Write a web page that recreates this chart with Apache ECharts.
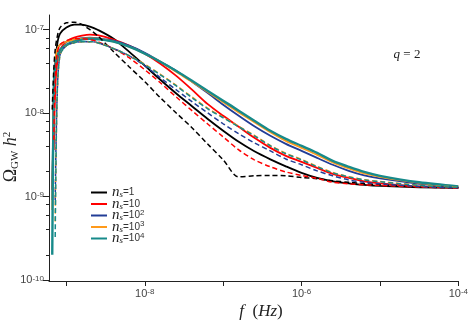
<!DOCTYPE html>
<html>
<head>
<meta charset="utf-8">
<script src="https://cdn.jsdelivr.net/npm/echarts@6/dist/echarts.min.js"></script>
<style>
  html, body { margin: 0; padding: 0; background: #fff; }
  #chart { width: 471px; height: 324px; }
</style>
</head>
<body>
<div id="chart"></div>
<script>
// frequency grid (Hz), shared by every curve
const freq = [6.6e-10, 6.9e-10, 7.2e-10, 7.6e-10, 8.3e-10, 1.0e-9, 1.26e-9, 1.58e-9, 2.0e-9, 2.5e-9,
  4.0e-9, 6.3e-9, 1.0e-8, 1.58e-8, 2.5e-8, 4.0e-8, 6.3e-8, 1.0e-7, 1.58e-7, 2.5e-7,
  4.0e-7, 6.3e-7, 1.0e-6, 1.58e-6, 2.5e-6, 4.0e-6, 6.3e-6, 1.0e-5, 3.16e-5, 1.0e-4];

// solid curves
const ns1 = [1.2e-9, 8.3e-9, 2.88e-8, 6.43e-8, 8.95e-8, 1.06e-7, 1.15e-7, 1.15e-7, 1.09e-7, 1.0e-7,
  7.8e-8, 5.45e-8, 3.70e-8, 2.51e-8, 1.73e-8, 1.21e-8, 8.55e-9, 6.14e-9, 4.52e-9, 3.48e-9,
  2.79e-9, 2.30e-9, 1.92e-9, 1.67e-9, 1.52e-9, 1.44e-9, 1.38e-9, 1.34e-9, 1.29e-9, 1.27e-9];
const ns10 = [null, 3.62e-9, 1.91e-8, 3.80e-8, 5.75e-8, 7.18e-8, 8.02e-8, 8.47e-8, 8.71e-8, 8.59e-8,
  7.59e-8, 6.43e-8, 5.15e-8, 3.91e-8, 2.81e-8, 1.91e-8, 1.29e-8, 9.29e-9, 6.85e-9, 5.05e-9,
  3.83e-9, 3.07e-9, 2.60e-9, 2.20e-9, 1.87e-9, 1.67e-9, 1.52e-9, 1.44e-9, 1.32e-9, 1.27e-9];
const ns100 = [9.1e-10, 1.91e-8, 4.13e-8, 5.75e-8, 6.61e-8, 7.18e-8, 7.59e-8, 7.91e-8, 8.02e-8, 7.91e-8,
  7.38e-8, 6.43e-8, 5.30e-8, 4.13e-8, 3.22e-8, 2.38e-8, 1.75e-8, 1.26e-8, 9.29e-9, 6.95e-9,
  5.34e-9, 4.28e-9, 3.52e-9, 2.90e-9, 2.40e-9, 2.03e-9, 1.79e-9, 1.65e-9, 1.42e-9, 1.30e-9];
const ns1000 = [6.9e-10, 1.91e-8, 4.13e-8, 5.75e-8, 6.61e-8, 7.18e-8, 7.59e-8, 7.80e-8, 7.91e-8, 7.80e-8,
  7.18e-8, 6.25e-8, 5.15e-8, 4.13e-8, 3.13e-8, 2.38e-8, 1.80e-8, 1.35e-8, 1.02e-8, 7.76e-9,
  5.89e-9, 4.65e-9, 3.83e-9, 3.16e-9, 2.56e-9, 2.17e-9, 1.89e-9, 1.72e-9, 1.46e-9, 1.32e-9];
const ns10000 = [2.0e-10, 1.91e-8, 3.80e-8, 4.61e-8, 5.75e-8, 6.61e-8, 7.18e-8, 7.59e-8, 7.80e-8, 7.69e-8,
  7.18e-8, 6.25e-8, 5.15e-8, 4.13e-8, 3.22e-8, 2.44e-8, 1.85e-8, 1.41e-8, 1.07e-8, 8.09e-9,
  6.14e-9, 4.91e-9, 4.05e-9, 3.34e-9, 2.67e-9, 2.27e-9, 1.97e-9, 1.77e-9, 1.48e-9, 1.32e-9];

// dashed curves
const ns1d = [1.1e-8, 3.31e-8, 5.75e-8, 8.02e-8, 1.06e-7, 1.21e-7, 1.23e-7, 1.15e-7, 1.0e-7, 8.47e-8,
  5.45e-8, 3.6e-8, 2.38e-8, 1.53e-8, 1.01e-8, 6.67e-9, 4.28e-9, 2.75e-9, 1.72e-9, 1.77e-9,
  1.79e-9, 1.77e-9, 1.69e-9, 1.63e-9, 1.54e-9, 1.48e-9, 1.42e-9, 1.38e-9, 1.30e-9, 1.27e-9];
const ns10d = [null, 4.78e-9, 2.51e-8, 5.01e-8, 6.61e-8, 7.38e-8, 7.80e-8, 7.80e-8, 7.59e-8, 7.18e-8,
  5.92e-8, 4.61e-8, 3.31e-8, 2.31e-8, 1.57e-8, 1.07e-8, 7.45e-9, 5.19e-9, 3.62e-9, 2.75e-9,
  2.27e-9, 1.97e-9, 1.79e-9, 1.65e-9, 1.48e-9, 1.42e-9, 1.38e-9, 1.36e-9, 1.30e-9, 1.27e-9];
const ns100d = [null, null, 9.1e-10, 1.45e-8, 5.01e-8, 6.43e-8, 6.98e-8, 7.18e-8, 7.18e-8, 6.98e-8,
  5.92e-8, 4.88e-8, 3.70e-8, 2.65e-8, 1.91e-8, 1.37e-8, 1.01e-8, 7.45e-9, 5.65e-9, 4.40e-9,
  3.52e-9, 2.82e-9, 2.40e-9, 2.03e-9, 1.77e-9, 1.58e-9, 1.48e-9, 1.42e-9, 1.32e-9, 1.27e-9];
const ns1000d = [null, null, 5.0e-10, 1.45e-8, 5.01e-8, 6.43e-8, 6.98e-8, 7.18e-8, 7.18e-8, 6.98e-8,
  5.92e-8, 4.9e-8, 3.85e-8, 2.92e-8, 2.16e-8, 1.56e-8, 1.15e-8, 8.9e-9, 6.95e-9, 5.4e-9,
  4.1e-9, 3.3e-9, 2.78e-9, 2.3e-9, 1.94e-9, 1.73e-9, 1.59e-9, 1.51e-9, 1.37e-9, 1.30e-9];
const ns10000d = [null, null, 3.27e-10, 1.45e-8, 5.01e-8, 6.43e-8, 6.98e-8, 7.18e-8, 7.18e-8, 6.98e-8,
  5.92e-8, 4.88e-8, 3.80e-8, 2.88e-8, 2.13e-8, 1.53e-8, 1.13e-8, 8.79e-9, 6.85e-9, 5.34e-9,
  4.05e-9, 3.25e-9, 2.75e-9, 2.27e-9, 1.92e-9, 1.72e-9, 1.58e-9, 1.50e-9, 1.36e-9, 1.29e-9];

const xMajor = [1e-9, 1e-8, 1e-7, 1e-6, 1e-5, 1e-4];
const xLabels = [1e-8, 1e-6, 1e-4];
const yMajor = [1e-10, 1e-9, 1e-8, 1e-7];
const yMinor = [2e-10, 4e-10, 6e-10, 8e-10, 2e-9, 4e-9, 6e-9, 8e-9, 2e-8, 4e-8, 6e-8, 8e-8];

const colors = ['#000000', '#ff0000', '#223d96', '#ff9a1a', '#178a8a'];
const names = ['ns1', 'ns10', 'ns100', 'ns1000', 'ns10000'];
const legendText = {
  ns1: '{n|n}{s|s}{e|=1}',
  ns10: '{n|n}{s|s}{e|=10}',
  ns100: '{n|n}{s|s}{e|=10}{p|2}',
  ns1000: '{n|n}{s|s}{e|=10}{p|3}',
  ns10000: '{n|n}{s|s}{e|=10}{p|4}'
};

function pairs(ys) {
  const out = [];
  ys.forEach((v, i) => { if (v != null) out.push([freq[i], v]); });
  return out;
}

function powLabel(v) {
  const e = Math.round(Math.log10(v));
  return '{b|10}{s|' + e + '}';
}

const labelRich = {
  b: { fontSize: 11, color: '#444', fontFamily: 'Liberation Sans', lineHeight: 11, verticalAlign: 'bottom' },
  s: { fontSize: 8, color: '#444', fontFamily: 'Liberation Sans', lineHeight: 8, verticalAlign: 'top' }
};

const solid = [ns1, ns10, ns100, ns1000, ns10000];
const dashed = [ns1d, ns10d, ns100d, ns1000d, ns10000d];
const series = [];
solid.forEach((ys, i) => {
  series.push({
    name: names[i], type: 'line', data: pairs(ys), showSymbol: false, smooth: 0.3,
    color: colors[i], lineStyle: { width: i === 4 ? 2.4 : 1.8, color: colors[i] }, z: 2 + i
  });
});
dashed.forEach((ys, i) => {
  series.push({
    name: names[i] + '_d', type: 'line', data: pairs(ys), showSymbol: false, smooth: 0.3,
    color: colors[i], lineStyle: { width: 1.5, color: colors[i], type: [5, 3] }, z: 8 + i
  });
});

const chart = echarts.init(document.getElementById('chart'));
chart.setOption({
  animation: false,
  grid: { left: 49, right: 12, top: 15, bottom: 43 },
  xAxis: {
    type: 'log', min: 6.0e-10, max: 1e-4,
    axisLine: { lineStyle: { color: '#222', width: 1 } },
    axisTick: { customValues: xMajor, length: 5, lineStyle: { color: '#222' } },
    axisLabel: { customValues: xLabels, formatter: powLabel, rich: labelRich, margin: 7 },
    splitLine: { show: false }
  },
  yAxis: [{
    type: 'log', min: 9.7e-11, max: 1.5e-7,
    axisLine: { show: true, lineStyle: { color: '#222', width: 1 } },
    axisTick: { show: true, customValues: yMajor, length: 6, lineStyle: { color: '#222' } },
    axisLabel: { customValues: yMajor, formatter: powLabel, rich: labelRich, margin: 5 },
    splitLine: { show: false }
  }, {
    type: 'log', min: 9.7e-11, max: 1.5e-7, position: 'left',
    axisLine: { show: false },
    axisTick: { show: true, customValues: yMinor, length: 3, lineStyle: { color: '#222' } },
    axisLabel: { show: false },
    splitLine: { show: false }
  }],
  legend: {
    data: names,
    orient: 'vertical', left: 86, top: 180,
    icon: 'rect', itemWidth: 16, itemHeight: 2, itemGap: -3.5,
    formatter: name => legendText[name],
    textStyle: {
      lineHeight: 14,
      rich: {
        n: { fontFamily: 'Liberation Serif', fontStyle: 'italic', fontSize: 15, color: '#222', lineHeight: 14 },
        s: { fontFamily: 'Liberation Serif', fontStyle: 'italic', fontSize: 9, color: '#222', lineHeight: 8, verticalAlign: 'bottom' },
        e: { fontFamily: 'Liberation Sans', fontSize: 10, color: '#333', lineHeight: 10 },
        p: { fontFamily: 'Liberation Sans', fontSize: 8, color: '#333', lineHeight: 8, verticalAlign: 'top' }
      }
    }
  },
  graphic: [{
    type: 'text', x: 11, y: 157, rotation: Math.PI / 2,
    style: {
      text: '{o|Ω}{g|GW}{h| h}{p|2}', align: 'center', verticalAlign: 'middle',
      rich: {
        o: { fontFamily: 'Liberation Serif', fontSize: 18, fill: '#222', lineHeight: 19 },
        g: { fontFamily: 'Liberation Serif', fontSize: 11, fill: '#222', lineHeight: 10, verticalAlign: 'bottom' },
        h: { fontFamily: 'Liberation Serif', fontStyle: 'italic', fontSize: 18, fill: '#222', lineHeight: 19 },
        p: { fontFamily: 'Liberation Serif', fontSize: 11, fill: '#222', lineHeight: 10, verticalAlign: 'top' }
      }
    }
  }, {
    type: 'text', x: 261, y: 312,
    style: {
      text: '{i|f}{r|  (}{i|Hz}{r|)}', align: 'center', verticalAlign: 'middle',
      rich: {
        i: { fontFamily: 'Liberation Serif', fontStyle: 'italic', fontSize: 17, fill: '#222' },
        r: { fontFamily: 'Liberation Serif', fontSize: 17, fill: '#222' }
      }
    }
  }, {
    type: 'text', x: 407, y: 55,
    style: {
      text: '{i|q}{r| = 2}', align: 'center', verticalAlign: 'middle',
      rich: {
        i: { fontFamily: 'Liberation Serif', fontStyle: 'italic', fontSize: 13, fill: '#222' },
        r: { fontFamily: 'Liberation Serif', fontSize: 13, fill: '#222' }
      }
    }
  }],
  series: series
});
</script>
</body>
</html>
